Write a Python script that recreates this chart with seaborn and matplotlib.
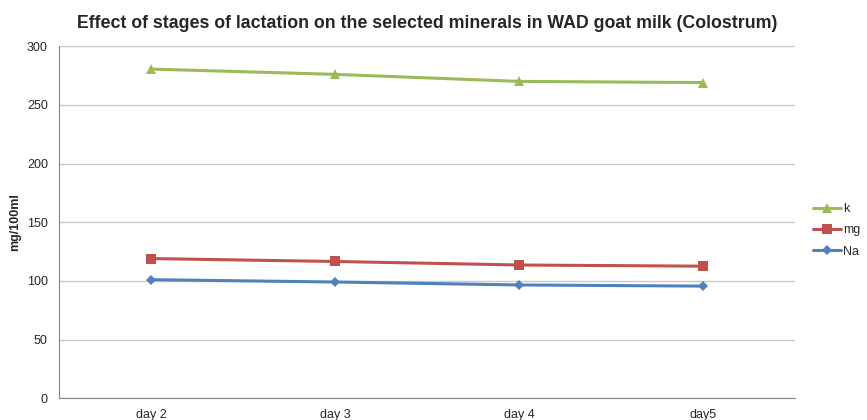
import numpy as np
import pandas as pd
import seaborn as sns
import matplotlib.pyplot as plt

days = ["day 2", "day 3", "day 4", "day5"]
k = [280.5, 276, 270, 269]
mg = [119, 116.5, 113.5, 112.5]
na = [101, 99, 96.5, 95.5]

df = pd.DataFrame({
    "day": days * 3,
    "value": k + mg + na,
    "mineral": ["k"] * 4 + ["mg"] * 4 + ["Na"] * 4,
})

sns.set_style("white")
plt.rcParams["font.family"] = ["Liberation Sans", "DejaVu Sans"]

fig = plt.figure(figsize=(8.67, 4.2), dpi=100)
ax = fig.add_axes([0.068, 0.052, 0.849, 0.838])

palette = {"k": "#9BBB59", "mg": "#C0504D", "Na": "#4F81BD"}
markers = {"k": "^", "mg": "s", "Na": "D"}
sns.lineplot(data=df, x="day", y="value", hue="mineral", style="mineral",
             palette=palette, markers=markers, dashes=False, linewidth=2.2,
             markersize=7, markeredgewidth=0, ax=ax, sort=False)
for ln in ax.lines:
    if ln.get_marker() == "D":
        ln.set_markersize(5.5)

ax.set_xlim(-0.5, 3.5)
ax.set_ylim(0, 300)
ax.set_yticks(range(0, 301, 50))
ax.yaxis.grid(True, color="#C8C8C8", linewidth=1)
ax.set_axisbelow(True)
for s in ["top", "right"]:
    ax.spines[s].set_visible(False)
for s in ["left", "bottom"]:
    ax.spines[s].set_color("#868686")
ax.tick_params(axis="both", length=0, labelsize=9, pad=8)
ax.set_xlabel("")
ax.set_ylabel("mg/100ml", fontsize=9, fontweight="bold", labelpad=4)
ax.set_title("Effect of stages of lactation on the selected minerals in WAD goat milk (Colostrum)",
             fontsize=12.8, fontweight="bold", pad=13)

leg = ax.legend(title=None, loc="center left", bbox_to_anchor=(1.017, 0.477),
                frameon=False, fontsize=9, handlelength=2.3, handletextpad=0.15,
                labelspacing=0.75, borderaxespad=0)
for h in leg.legend_handles:
    if h.get_marker() == "D":
        h.set_markersize(5.5)

fig.savefig("out.png", dpi=100)
